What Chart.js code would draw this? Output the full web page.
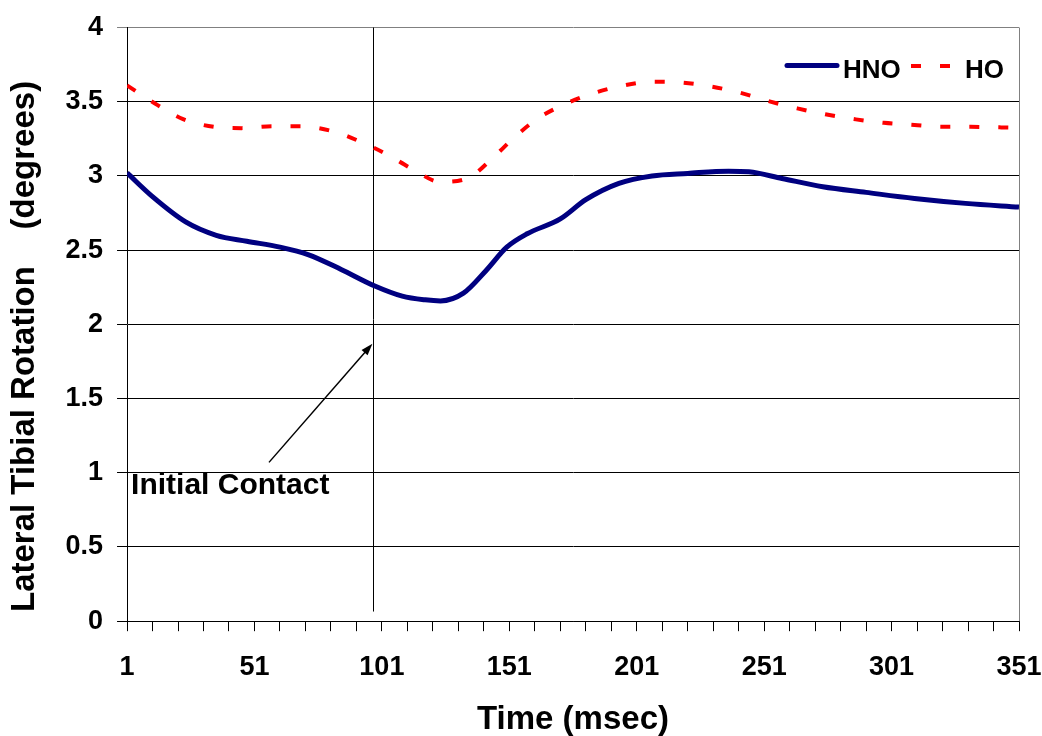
<!DOCTYPE html>
<html lang="en">
<head>
  <meta charset="UTF-8" />
  <title>Lateral Tibial Rotation</title>
  <style>
    * { margin: 0; padding: 0; box-sizing: border-box; }
    body { background: #fff; width: 1042px; height: 736px; overflow: hidden; }
    #wrap { position: relative; width: 1042px; height: 736px; }
  </style>
</head>
<body>
  <div id="wrap"><canvas id="rotationChart"></canvas></div>

  <script src="https://cdn.jsdelivr.net/npm/chart.js"></script>
  <script>
    // values
    const hnoTime  = [1, 11, 24, 36, 48, 61, 72, 85, 98, 109, 118, 124, 133, 142, 150, 158, 171, 181, 194, 207, 221, 237, 245, 258, 274, 291, 310, 330, 351];
    const hnoValue = [3.02, 2.86, 2.69, 2.60, 2.56, 2.52, 2.47, 2.37, 2.26, 2.19, 2.165, 2.158, 2.21, 2.365, 2.52, 2.61, 2.71, 2.84, 2.95, 3.0, 3.017, 3.032, 3.028, 2.983, 2.927, 2.889, 2.848, 2.815, 2.79];

    const hoTime  = [1, 13, 23, 35, 46, 58, 69, 81, 92, 103, 113, 124, 135, 144, 153, 162, 172, 183, 195, 207, 218, 229, 241, 252, 264, 275, 287, 298, 310, 321, 332, 344, 351];
    const hoValue = [3.61, 3.477, 3.383, 3.331, 3.322, 3.334, 3.334, 3.304, 3.235, 3.145, 3.046, 2.96, 2.987, 3.113, 3.26, 3.385, 3.477, 3.552, 3.606, 3.635, 3.63, 3.606, 3.563, 3.507, 3.455, 3.415, 3.381, 3.358, 3.343, 3.331, 3.331, 3.327, 3.325];

    const xTicks  = [1, 11, 21, 31, 41, 51, 61, 71, 81, 91, 101, 111, 121, 131, 141, 151, 161, 171, 181, 191, 201, 211, 221, 231, 241, 251, 261, 271, 281, 291, 301, 311, 321, 331, 341, 351];
    const xLabels = [1, 51, 101, 151, 201, 251, 301, 351];
    const yTicks  = [0, 0.5, 1, 1.5, 2, 2.5, 3, 3.5, 4];

    // "Initial Contact" marker (data units)
    const contactTime = 97.5;
    const contactLineEnd = 0.065;
    const arrowFrom = [56.7, 1.07];
    const arrowTo = [97.3, 1.87];
    const contactLabel = 'Initial Contact';
    const contactLabelPos = [2.6, 0.86];

    const FONT = "'Liberation Sans', Arial, Helvetica, sans-serif";
    Chart.defaults.font.family = FONT;
    Chart.defaults.color = '#000';

    const toPoints = (xs, ys) => xs.map((t, i) => ({ x: t, y: ys[i] }));

    const overlay = {
      id: 'overlay',
      beforeDatasetsDraw(chart) {
        const { ctx, chartArea: a, scales: { x, y } } = chart;
        ctx.save();
        // grey right frame
        ctx.strokeStyle = '#808080';
        ctx.lineWidth = 1;
        const rx = Math.round(a.right) + 0.5;
        ctx.beginPath();
        ctx.moveTo(rx, a.top);
        ctx.lineTo(rx, a.bottom);
        ctx.stroke();

        // vertical line at initial contact
        ctx.strokeStyle = '#000';
        const cx = Math.round(x.getPixelForValue(contactTime)) + 0.5;
        ctx.beginPath();
        ctx.moveTo(cx, a.top);
        ctx.lineTo(cx, y.getPixelForValue(contactLineEnd));
        ctx.stroke();

        // arrow
        const x0 = x.getPixelForValue(arrowFrom[0]), y0 = y.getPixelForValue(arrowFrom[1]);
        const x1 = x.getPixelForValue(arrowTo[0]), y1 = y.getPixelForValue(arrowTo[1]);
        const ang = Math.atan2(y1 - y0, x1 - x0);
        ctx.lineWidth = 1.5;
        ctx.beginPath();
        ctx.moveTo(x0, y0);
        ctx.lineTo(x1 - 6 * Math.cos(ang), y1 - 6 * Math.sin(ang));
        ctx.stroke();
        ctx.fillStyle = '#000';
        ctx.beginPath();
        ctx.moveTo(x1, y1);
        ctx.lineTo(x1 - 12 * Math.cos(ang) + 4 * Math.sin(ang), y1 - 12 * Math.sin(ang) - 4 * Math.cos(ang));
        ctx.lineTo(x1 - 12 * Math.cos(ang) - 4 * Math.sin(ang), y1 - 12 * Math.sin(ang) + 4 * Math.cos(ang));
        ctx.closePath();
        ctx.fill();
        ctx.restore();
      },
      afterDatasetsDraw(chart) {
        const { ctx, chartArea: a, scales: { x, y } } = chart;
        ctx.save();
        ctx.fillStyle = '#000';
        ctx.textBaseline = 'alphabetic';
        ctx.textAlign = 'left';
        ctx.font = 'bold 30px ' + FONT;
        ctx.fillText(contactLabel, x.getPixelForValue(contactLabelPos[0]), y.getPixelForValue(contactLabelPos[1]));

        // legend inside the plot, top right
        const ds = chart.data.datasets;
        const lx = a.right - 232, ly = a.top + 38;
        ctx.font = 'bold 26px ' + FONT;

        ctx.strokeStyle = ds[0].borderColor;
        ctx.lineWidth = ds[0].borderWidth;
        ctx.lineCap = 'round';
        ctx.beginPath();
        ctx.moveTo(lx, ly);
        ctx.lineTo(lx + 50, ly);
        ctx.stroke();
        ctx.fillText(ds[0].label, lx + 56, ly + 12);

        ctx.strokeStyle = ds[1].borderColor;
        ctx.lineWidth = ds[1].borderWidth;
        ctx.lineCap = 'butt';
        ctx.setLineDash(ds[1].borderDash);
        ctx.beginPath();
        ctx.moveTo(lx + 124, ly + 0.5);
        ctx.lineTo(lx + 164, ly + 0.5);
        ctx.stroke();
        ctx.setLineDash([]);
        ctx.fillText(ds[1].label, lx + 178, ly + 12);
        ctx.restore();
      }
    };

    const ctx = document.getElementById('rotationChart').getContext('2d');

    new Chart(ctx, {
      type: 'line',
      data: {
        datasets: [
          {
            label: 'HNO',
            data: toPoints(hnoTime, hnoValue),
            borderColor: '#000080',
            borderWidth: 5,
            borderJoinStyle: 'round',
            cubicInterpolationMode: 'monotone',
            pointRadius: 0,
            fill: false
          },
          {
            label: 'HO',
            data: toPoints(hoTime, hoValue),
            borderColor: '#ff0000',
            borderWidth: 4,
            borderDash: [10, 19],
            cubicInterpolationMode: 'monotone',
            pointRadius: 0,
            fill: false
          }
        ]
      },
      options: {
        responsive: true,
        maintainAspectRatio: false,
        animation: false,
        events: [],
        layout: { padding: { left: 0, top: 27, right: 23, bottom: 0 } },
        plugins: {
          legend: { display: false },
          tooltip: { enabled: false }
        },
        scales: {
          x: {
            type: 'linear',
            min: 1,
            max: 351,
            afterBuildTicks: s => { s.ticks = xTicks.map(v => ({ value: v })); },
            grid: { drawOnChartArea: false, drawTicks: true, tickLength: 10, color: '#000', lineWidth: 1 },
            border: { color: '#000', width: 1 },
            ticks: {
              autoSkip: false,
              maxRotation: 0,
              minRotation: 0,
              padding: 0,
              color: '#000',
              // tall line box pushes the labels down without widening the side padding
              font: { size: 27, weight: 'bold', lineHeight: 2.66 },
              callback: v => xLabels.includes(v) ? String(v) : ''
            },
            title: {
              display: true,
              text: 'Time (msec)',
              color: '#000',
              font: { size: 33, weight: 'bold', lineHeight: 1 },
              padding: { top: 0, bottom: 0 }
            }
          },
          y: {
            min: 0,
            max: 4,
            afterBuildTicks: s => { s.ticks = yTicks.map(v => ({ value: v })); },
            grid: {
              color: c => (c.tick && c.tick.value === 4) ? '#808080' : '#000',
              lineWidth: 1,
              tickLength: 10
            },
            border: { color: '#000', width: 1 },
            ticks: {
              padding: 14,
              color: '#000',
              font: { size: 27, weight: 'bold', lineHeight: 1 },
              callback: v => String(v)
            },
            title: {
              display: true,
              text: ' Lateral Tibial Rotation    (degrees)',
              align: 'start',
              color: '#000',
              font: { size: 33, weight: 'bold', lineHeight: 1 },
              padding: { top: 8, bottom: 10.5 }
            }
          }
        }
      },
      plugins: [overlay]
    });
  </script>
</body>
</html>
